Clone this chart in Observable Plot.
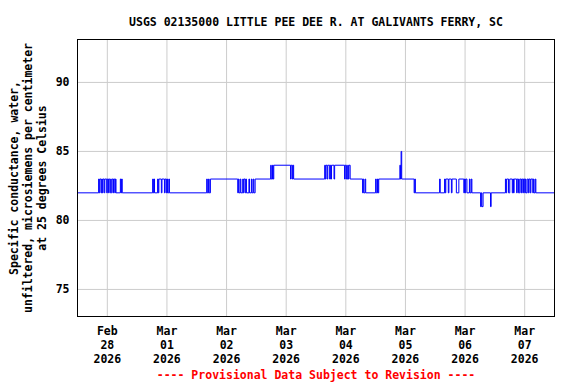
<!DOCTYPE html>
<html><head><meta charset="utf-8">
<script src="https://cdn.jsdelivr.net/npm/d3@7"></script>
<script src="https://cdn.jsdelivr.net/npm/@observablehq/plot@0.6"></script>
<style>body{margin:0;background:#fff}</style>
</head><body><div id="chart"></div>
<script>
const title = "USGS 02135000 LITTLE PEE DEE R. AT GALIVANTS FERRY, SC";
const yLabel = "Specific conductance, water,\nunfiltered, microsiemens per centimeter\nat 25 degrees Celsius";
const caption = "---- Provisional Data Subject to Revision ----";
const xDomain = ["2026-02-27T12:00", "2026-03-07T12:00"];
const xTicks = ["2026-02-28", "2026-03-01", "2026-03-02", "2026-03-03", "2026-03-04", "2026-03-05", "2026-03-06", "2026-03-07"];
const yDomain = [73.04, 93.11];
const yTicks = [75, 80, 85, 90];

// times at which the reading changes, and the value from that time on
const changeTimes = [
  "2026-02-27T12:00",
  "2026-02-27T20:30","2026-02-27T20:45","2026-02-27T21:00","2026-02-27T21:30","2026-02-27T21:45","2026-02-27T22:00",
  "2026-02-27T22:15","2026-02-27T22:45","2026-02-27T23:00","2026-02-27T23:45","2026-02-28T00:00","2026-02-28T00:30",
  "2026-02-28T00:45","2026-02-28T01:15","2026-02-28T01:45","2026-02-28T02:15","2026-02-28T02:30","2026-02-28T03:00",
  "2026-02-28T03:15","2026-02-28T03:30","2026-02-28T05:15","2026-02-28T05:30","2026-02-28T05:45","2026-02-28T06:00",
  "2026-02-28T18:15","2026-02-28T18:30","2026-02-28T18:45","2026-02-28T19:00","2026-02-28T20:15","2026-02-28T20:30",
  "2026-02-28T20:45","2026-02-28T21:45","2026-02-28T22:00","2026-02-28T23:00","2026-02-28T23:15","2026-02-28T23:45",
  "2026-03-01T00:00","2026-03-01T00:15","2026-03-01T00:45","2026-03-01T01:00",
  "2026-03-01T16:00","2026-03-01T16:15","2026-03-01T16:45","2026-03-01T17:00","2026-03-01T17:30",
  "2026-03-02T04:30","2026-03-02T04:45","2026-03-02T05:00","2026-03-02T05:30","2026-03-02T05:45","2026-03-02T06:30",
  "2026-03-02T06:45","2026-03-02T07:00","2026-03-02T07:30","2026-03-02T07:45","2026-03-02T08:00","2026-03-02T09:00",
  "2026-03-02T09:15","2026-03-02T10:00","2026-03-02T10:15","2026-03-02T10:45","2026-03-02T11:00","2026-03-02T11:30",
  "2026-03-02T17:45","2026-03-02T18:00","2026-03-02T18:30","2026-03-02T18:45","2026-03-02T19:00",
  "2026-03-03T01:45","2026-03-03T02:00","2026-03-03T02:30","2026-03-03T02:45","2026-03-03T03:00",
  "2026-03-03T15:30","2026-03-03T15:45","2026-03-03T16:00","2026-03-03T16:30","2026-03-03T16:45","2026-03-03T17:30",
  "2026-03-03T17:45","2026-03-03T18:00","2026-03-03T18:15","2026-03-03T19:15","2026-03-03T19:30","2026-03-03T23:30",
  "2026-03-03T23:45","2026-03-04T00:15","2026-03-04T00:45","2026-03-04T01:00","2026-03-04T01:15","2026-03-04T01:45",
  "2026-03-04T06:45","2026-03-04T07:00","2026-03-04T07:15","2026-03-04T07:45","2026-03-04T08:00",
  "2026-03-04T12:00","2026-03-04T12:15","2026-03-04T12:45","2026-03-04T13:00","2026-03-04T13:15",
  "2026-03-04T21:45","2026-03-04T22:00","2026-03-04T22:15","2026-03-04T22:30",
  "2026-03-05T03:30","2026-03-05T03:45","2026-03-05T04:00",
  "2026-03-05T13:45","2026-03-05T14:00","2026-03-05T15:45","2026-03-05T16:00","2026-03-05T16:15","2026-03-05T17:15",
  "2026-03-05T17:30","2026-03-05T18:30","2026-03-05T18:45","2026-03-05T20:30","2026-03-05T21:30","2026-03-05T23:30",
  "2026-03-05T23:45","2026-03-06T00:00","2026-03-06T00:15","2026-03-06T00:45","2026-03-06T01:45","2026-03-06T02:00",
  "2026-03-06T02:30","2026-03-06T02:45",
  "2026-03-06T06:15","2026-03-06T06:30","2026-03-06T06:45","2026-03-06T07:15","2026-03-06T10:15","2026-03-06T10:30",
  "2026-03-06T16:15","2026-03-06T16:30","2026-03-06T16:45","2026-03-06T17:30","2026-03-06T18:00","2026-03-06T19:00",
  "2026-03-06T19:15","2026-03-06T19:30","2026-03-06T19:45","2026-03-06T20:45","2026-03-06T21:00","2026-03-06T21:30",
  "2026-03-06T22:00","2026-03-06T22:30","2026-03-06T22:45","2026-03-06T23:15","2026-03-06T23:30","2026-03-07T00:00",
  "2026-03-07T00:15","2026-03-07T00:30","2026-03-07T01:00","2026-03-07T01:30","2026-03-07T01:45","2026-03-07T02:15",
  "2026-03-07T02:30","2026-03-07T03:15","2026-03-07T03:30","2026-03-07T03:45","2026-03-07T04:15","2026-03-07T04:30",
  "2026-03-07T12:00"
];
const changeValues = [
  82,
  83,82,83,82,83,82,
  83,82,83,82,83,82,
  83,82,83,82,83,82,
  83,82,83,82,83,82,
  83,82,83,82,83,82,
  83,82,83,82,83,82,
  83,82,83,82,
  83,82,83,82,83,
  82,83,82,83,82,83,
  82,83,82,83,82,83,
  82,83,82,83,82,83,
  84,83,84,83,84,
  83,84,83,84,83,
  84,83,84,83,84,83,
  84,83,84,83,84,83,
  84,83,84,83,84,83,
  82,83,82,83,82,
  83,82,83,82,83,
  84,83,85,83,
  82,83,82,
  83,82,83,82,83,82,
  83,82,83,82,83,82,
  83,82,83,82,83,82,
  83,82,
  81,82,81,82,81,82,
  83,82,83,82,83,82,
  83,82,83,82,83,82,
  83,82,83,82,83,82,
  83,82,83,82,83,82,
  83,82,83,82,83,82,
  82
];

const data = changeTimes.map((t, i) => ({date: new Date(t), value: changeValues[i]}));
const tickDates = xTicks.map(t => new Date(t + "T00:00"));
const fmtMon = d3.timeFormat("%b"), fmtDay = d3.timeFormat("%d"), fmtYear = d3.timeFormat("%Y");

const chart = Plot.plot({
  width: 576,
  height: 384,
  marginTop: 39,
  marginBottom: 68,
  marginLeft: 77,
  marginRight: 22,
  style: {fontFamily: "'DejaVu Sans Mono', monospace", fontSize: "11.5px", fontWeight: "bold", background: "#fff", color: "#000"},
  x: {type: "time", domain: xDomain.map(t => new Date(t))},
  y: {domain: yDomain},
  marks: [
    Plot.gridX(tickDates, {stroke: "#cccccc", strokeOpacity: 1}),
    Plot.gridY(yTicks, {stroke: "#cccccc", strokeOpacity: 1}),
    Plot.line(data, {x: "date", y: "value", curve: "step-after", stroke: "#0000ff", strokeWidth: 1}),
    Plot.frame({stroke: "#000", strokeWidth: 1}),
    Plot.axisX(tickDates, {tickSize: 0, tickPadding: 9, label: null, lineHeight: 1.2,
      tickFormat: d => `${fmtMon(d)}\n${fmtDay(d)}\n${fmtYear(d)}`, fill: "#000"}),
    Plot.axisY(yTicks, {tickSize: 0, tickPadding: 8, label: null, fill: "#000"}),
    Plot.text([title], {text: d => d, frameAnchor: "top", dy: -22, fill: "#000", fontWeight: "bold"}),
    Plot.text([yLabel], {text: d => d, frameAnchor: "left", rotate: -90, dx: -50, lineHeight: 1.2,
      textAnchor: "middle", lineAnchor: "middle", fill: "#000"}),
    Plot.text([caption], {text: d => d, frameAnchor: "bottom", dy: 62, fill: "#ff0000"})
  ]
});
document.getElementById("chart").appendChild(chart);
</script>
</body></html>
